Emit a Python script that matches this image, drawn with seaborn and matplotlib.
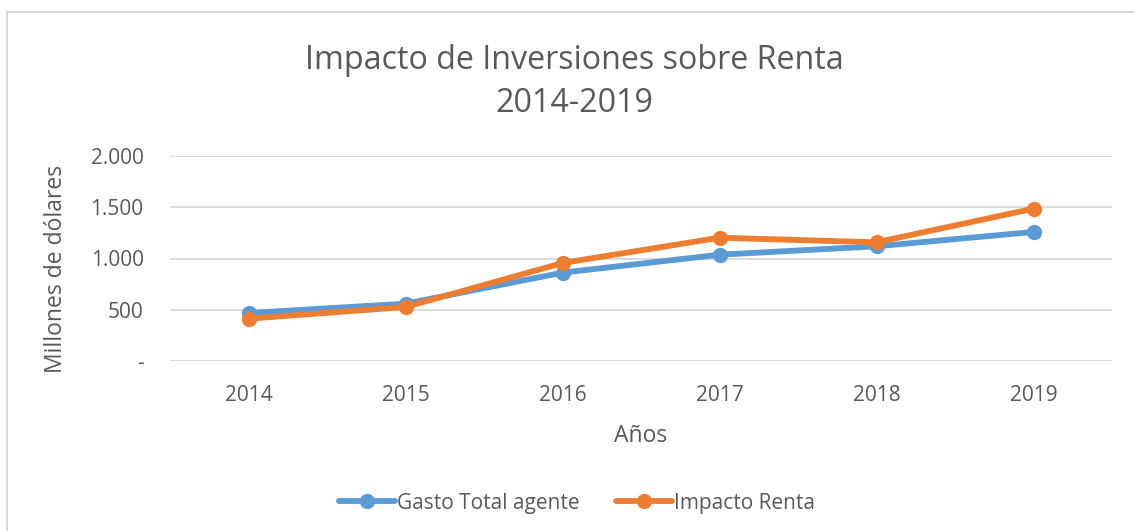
import numpy as np
import pandas as pd
import matplotlib
matplotlib.use("Agg")
import matplotlib.pyplot as plt
import seaborn as sns
from matplotlib.lines import Line2D

# values (millones de dólares)
years = ["2014", "2015", "2016", "2017", "2018", "2019"]
gasto_total = [468, 559, 862, 1037, 1119, 1259]
impacto_renta = [413, 527, 956, 1203, 1158, 1486]
series_names = ["Gasto Total agente", "Impacto Renta"]
y_ticks = [0, 500, 1000, 1500, 2000]
y_tick_labels = ["-", "500", "1.000", "1.500", "2.000"]

colors = {"Gasto Total agente": "#5B9BD5", "Impacto Renta": "#ED7D31"}
text_color = "#595959"

df = pd.DataFrame({
    "Año": years * 2,
    "Valor": gasto_total + impacto_renta,
    "Serie": [series_names[0]] * len(years) + [series_names[1]] * len(years),
})

sns.set_style("white")
plt.rcParams["font.family"] = ["Open Sans", "DejaVu Sans"]

W, H = 1134, 531
fig = plt.figure(figsize=(W / 100, H / 100), dpi=100)
ax = fig.add_axes([170 / W, 1 - 361 / H, 942 / W, 205 / H])

sns.lineplot(data=df, x="Año", y="Valor", hue="Serie", hue_order=series_names,
             palette=colors, marker="o", markersize=11, markeredgewidth=0,
             linewidth=4.2, sort=False, legend=False, ax=ax)

ax.set_xlim(-0.5, len(years) - 0.5)
ax.set_ylim(0, 2000)
ax.set_yticks(y_ticks)
ax.set_yticklabels(y_tick_labels)
ax.yaxis.grid(True, color="#d9d9d9", linewidth=1.3)
ax.set_axisbelow(True)
for s in ax.spines.values():
    s.set_visible(False)
ax.tick_params(axis="both", length=0, labelsize=15, labelcolor=text_color)
ax.tick_params(axis="y", pad=19)
ax.tick_params(axis="x", pad=17)

ax.set_xlabel("Años", fontsize=16.5, color=text_color, labelpad=13)
ax.set_ylabel("")
fig.text(56 / W, 1 - 269 / H, "Millones de dólares", rotation=90, fontsize=16.5,
         color=text_color, ha="center", va="center")

# two-line title
fig.text(574 / W, 1 - 69 / H, "Impacto de Inversiones sobre Renta", fontsize=23.2,
         color=text_color, ha="center", va="baseline")
fig.text(574 / W, 1 - 112 / H, "2014-2019", fontsize=23.2,
         color=text_color, ha="center", va="baseline")

handles = [Line2D([], [], color=colors[n], linewidth=4.2, marker="o",
                  markersize=11, markeredgewidth=0) for n in series_names]
fig.legend(handles, series_names, loc="center", bbox_to_anchor=(577 / W, 1 - 503 / H),
           ncol=2, frameon=False, fontsize=15, labelcolor=text_color,
           handlelength=2.7, handletextpad=0.12, columnspacing=1.7)

# chart border (cropped: only top and left edges visible)
fig.add_artist(Line2D([7 / W, 1], [1 - 12 / H, 1 - 12 / H], transform=fig.transFigure,
                      color="#d9d9d9", linewidth=1.5))
fig.add_artist(Line2D([7 / W, 7 / W], [0, 1 - 12 / H], transform=fig.transFigure,
                      color="#d9d9d9", linewidth=1.5))

fig.savefig("out.png", dpi=100)
